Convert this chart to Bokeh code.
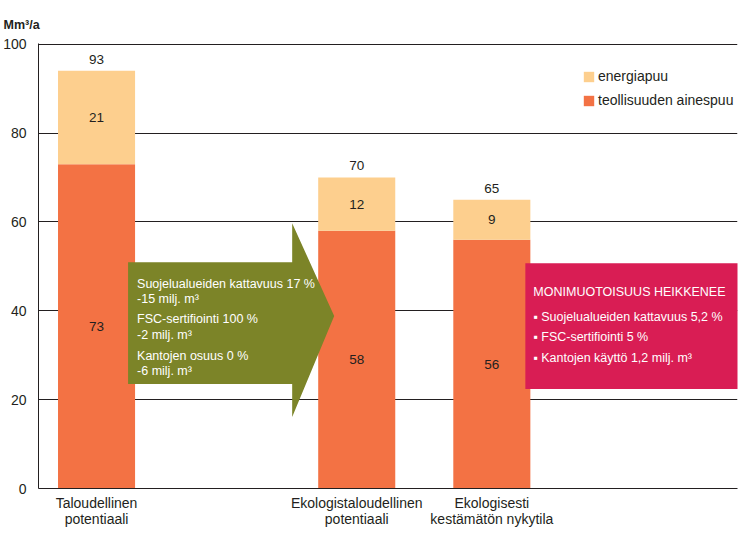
from bokeh.plotting import figure
from bokeh.models import (ColumnDataSource, Range1d, FixedTicker, Legend, LegendItem)
from bokeh.core.properties import value
from bokeh.embed import file_html
from bokeh.resources import INLINE

# ---- data ----
categories = ["Taloudellinen\npotentiaali", "Ekologistaloudellinen\npotentiaali",
              "Ekologisesti\nkestämätön nykytila"]
teollisuus = [73, 58, 56]
energia = [21, 12, 9]
totals = [93, 70, 65]
y_ticks = [0, 20, 40, 60, 80, 100]
series_names = ["energiapuu", "teollisuuden ainespuu"]
unit_label = "Mm³/a"

arrow_lines = ["Suojelualueiden kattavuus 17 %", "-15 milj. m³",
               "FSC-sertifiointi 100 %", "-2 milj. m³",
               "Kantojen osuus 0 %", "-6 milj. m³"]
box_title = "MONIMUOTOISUUS HEIKKENEE"
box_lines = ["▪ Suojelualueiden kattavuus 5,2 %", "▪ FSC-sertifiointi 5 %",
             "▪ Kantojen käyttö 1,2 milj. m³"]

# ---- layout constants ----
bar_x = [58, 318, 453]
bar_w = 77
FONT = "Liberation Sans"
DARK = "#231f20"
C_ENER = "#fdcf8e"
C_TEOL = "#f37244"
C_OLIVE = "#7c8428"
C_MAG = "#d91d54"

p = figure(width=739, height=541, output_backend="svg", toolbar_location=None,
           x_range=Range1d(0, 698.5), y_range=Range1d(0, 100.15),
           min_border_left=38, min_border_right=2, min_border_top=43,
           min_border_bottom=53)
p.outline_line_color = None
p.background_fill_color = "white"
p.border_fill_color = "white"

p.title.text = unit_label
p.title.text_font = FONT
p.title.text_font_size = "12.5px"
p.title.text_font_style = "bold"
p.title.text_color = DARK
p.title.align = "left"
p.title.offset = -35
p.title.standoff = 24

src = ColumnDataSource(dict(x=bar_x, teol=teollisuus, ener=energia,
                            top1=teollisuus,
                            top2=[a + b for a, b in zip(teollisuus, energia)],
                            mid1=[a / 2 for a in teollisuus],
                            mid2=[a + b / 2 for a, b in zip(teollisuus, energia)],
                            lab1=[str(v) for v in teollisuus],
                            lab2=[str(v) for v in energia],
                            labt=[str(v) for v in totals]))

r_teol = p.vbar(x="x", bottom=0, top="top1", width=bar_w, source=src,
                fill_color=C_TEOL, line_color=None)
r_ener = p.vbar(x="x", bottom="top1", top="top2", width=bar_w, source=src,
                fill_color=C_ENER, line_color=None)

# arrow (derived from bar positions)
ax0 = bar_x[0] + bar_w / 2 - 7
ax1 = bar_x[1] - bar_w / 2 - 26
ax2 = bar_x[1] - bar_w / 2 + 16
p.patch([ax0, ax1, ax1, ax2, ax1, ax1, ax0],
        [50.9, 50.9, 59.7, 38.8, 16.1, 23.5, 23.5],
        fill_color=C_OLIVE, line_color=None)

# magenta box
bx0 = bar_x[2] + bar_w / 2 - 5
p.quad(left=[bx0], right=[700], bottom=[22.4], top=[50.7],
       fill_color=C_MAG, line_color=None)

# value labels
p.text(x="x", y="mid1", text="lab1", source=src, text_align="center",
       text_baseline="middle", text_font=value(FONT), text_font_size="13.5px",
       text_color=DARK)
p.text(x="x", y="mid2", text="lab2", source=src, text_align="center",
       text_baseline="middle", text_font=value(FONT), text_font_size="13.5px",
       text_color=DARK)
p.text(x="x", y="top2", text="labt", source=src, text_align="center",
       text_baseline="bottom", y_offset=-7, text_font=value(FONT),
       text_font_size="13.5px", text_color=DARK)

# arrow text
arrow_y = [45.96, 42.58, 38.09, 34.49, 29.78, 26.4]
p.text(x=[ax0 + 9] * len(arrow_lines), y=arrow_y, text=arrow_lines,
       text_align="left", text_baseline="middle", text_font=value(FONT),
       text_font_size="12.5px", text_color="white")

# box text
p.text(x=[bx0 + 8], y=[44.16], text=[box_title], text_align="left",
       text_baseline="middle", text_font=value(FONT), text_font_size="12.5px",
       text_color="white")
p.text(x=[bx0 + 8] * 3, y=[38.5, 34.0, 29.3], text=box_lines, text_align="left",
       text_baseline="middle", text_font=value(FONT), text_font_size="12.5px",
       text_color="white")

# axes
p.yaxis.ticker = FixedTicker(ticks=y_ticks)
p.yaxis.major_tick_out = 0
p.yaxis.major_tick_in = 0
p.yaxis.minor_tick_out = 0
p.yaxis.minor_tick_in = 0
p.yaxis.major_label_standoff = 12
p.yaxis.axis_line_color = DARK
p.yaxis.major_label_text_font = FONT
p.yaxis.major_label_text_font_size = "14px"
p.yaxis.major_label_text_color = DARK

p.xaxis.ticker = FixedTicker(ticks=bar_x)
p.xaxis.major_label_overrides = {bx: c for bx, c in zip(bar_x, categories)}
p.xaxis.major_tick_out = 0
p.xaxis.major_tick_in = 0
p.xaxis.minor_tick_out = 0
p.xaxis.minor_tick_in = 0
p.xaxis.major_label_standoff = 6
p.xaxis.axis_line_color = DARK
p.xaxis.major_label_text_font = FONT
p.xaxis.major_label_text_font_size = "14px"
p.xaxis.major_label_text_color = DARK
p.xaxis.major_label_text_line_height = 1.0

p.xgrid.grid_line_color = None
p.ygrid.ticker = FixedTicker(ticks=y_ticks)
p.ygrid.grid_line_color = DARK
p.ygrid.grid_line_width = 1

legend = Legend(items=[LegendItem(label=series_names[0], renderers=[r_ener]),
                       LegendItem(label=series_names[1], renderers=[r_teol])],
                location=(544, 380), glyph_width=13, glyph_height=13,
                label_height=13, label_standoff=3, spacing=8, padding=0, margin=0,
                border_line_color=None, background_fill_alpha=0,
                label_text_font=FONT, label_text_font_size="14px",
                label_text_color=DARK)
p.add_layout(legend)

open("out.html", "w").write(file_html(p, INLINE))
